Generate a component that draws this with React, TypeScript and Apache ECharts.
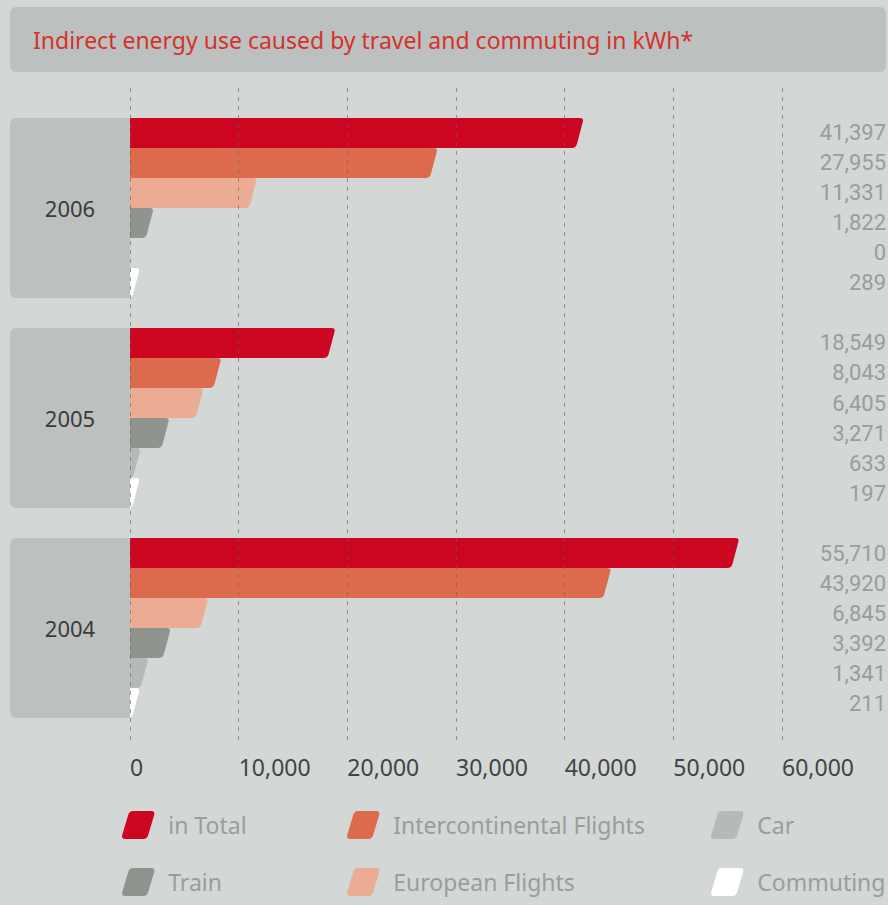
import React, { useEffect, useRef } from "react";
import * as echarts from "echarts";

// ---------- data ----------
const years = ["2006", "2005", "2004"];
const seriesNames = [
  "in Total",
  "Intercontinental Flights",
  "European Flights",
  "Train",
  "Car",
  "Commuting",
];
const totalValues = [41397, 18549, 55710];
const intercontinentalValues = [27955, 8043, 43920];
const europeanValues = [11331, 6405, 6845];
const trainValues = [1822, 3271, 3392];
const carValues = [0, 633, 1341];
const commutingValues = [289, 197, 211];
const axisMin = 0;
const axisMax = 60000;
const axisInterval = 10000;
const titleText = "Indirect energy use caused by travel and commuting in kWh*";

const seriesValues = [
  totalValues,
  intercontinentalValues,
  europeanValues,
  trainValues,
  carValues,
  commutingValues,
];
const seriesColors = ["#cc0520", "#dc6a4c", "#ebac93", "#8f948f", "#b5bab7", "#ffffff"];

const FONT = '"Noto Sans", "Open Sans", sans-serif';
const NUMFONT = 'Roboto, "Noto Sans", sans-serif';
const BG = "#d3d7d5";
const BOX = "#bcc1bf";

const legendIcon =
  "path://M12,0 L30,0 Q34,0 33,4 L27,24 Q26,28 22,28 L4,28 Q0,28 1,24 L7,4 Q8,0 12,0 Z";

const legendPlacement: Record<string, [number, number]> = {
  "in Total": [122, 811],
  "Intercontinental Flights": [347, 811],
  Car: [711, 811],
  Train: [122, 868],
  "European Flights": [347, 868],
  Commuting: [711, 868],
};

const fmt = (v: number) => v.toLocaleString("en-US");

function barPath(x0: number, xt: number, yT: number, yB: number, s: number, r: number) {
  const h = yB - yT;
  const xb = xt - s;
  const dx = (s * r) / h;
  return (
    `M${x0},${yT} L${xt - r},${yT} Q${xt},${yT} ${xt - dx},${yT + r} ` +
    `L${xb + dx},${yB - r} Q${xb},${yB} ${xb - r},${yB} L${x0},${yB} Z`
  );
}

export default function App() {
  const ref = useRef<HTMLDivElement>(null);

  useEffect(() => {
    if (!ref.current) return;
    const chart = echarts.init(ref.current, null, { renderer: "svg" });

    const barSeries = seriesNames.map((name, k) => ({
      type: "custom",
      name,
      z: 2,
      itemStyle: { color: seriesColors[k] },
      data: seriesValues[k].map((v, gi) => [v, gi]),
      renderItem: (params: any, api: any) => {
        const v = api.value(0);
        const gi = api.value(1);
        const c = api.coord([v, gi]);
        const z0 = api.coord([0, gi]);
        const unit = api.size([0, 1])[1];
        const h = unit / 7;
        const top = c[1] - 3 * h + k * h;
        const bottom = top + h;
        const children: any[] = [];
        const s = 8;
        if (v > 0) {
          const xt = Math.max(c[0] + s / 2, z0[0] + 10);
          children.push({
            type: "path",
            shape: { pathData: barPath(z0[0], xt, top, bottom, s, 4) },
            style: { fill: seriesColors[k] },
          });
        }
        children.push({
          type: "text",
          x: api.getWidth() - 2,
          y: (top + bottom) / 2,
          style: {
            text: fmt(v),
            align: "right",
            verticalAlign: "middle",
            fill: "#9a9d9b",
            fontSize: 22,
            fontFamily: NUMFONT,
          },
        });
        return { type: "group", children };
      },
    }));

    const yearSeries = {
      type: "custom",
      name: "years",
      z: 1,
      silent: true,
      data: years.map((y, i) => [0, i]),
      renderItem: (params: any, api: any) => {
        const gi = api.value(1);
        const z0 = api.coord([0, gi]);
        const unit = api.size([0, 1])[1];
        const h = unit / 7;
        const top = z0[1] - 3 * h;
        const left = 10;
        return {
          type: "group",
          children: [
            {
              type: "rect",
              shape: { x: left, y: top, width: z0[0] - left, height: 6 * h, r: [6, 0, 0, 6] },
              style: { fill: BOX },
            },
            {
              type: "text",
              x: (left + z0[0]) / 2,
              y: z0[1],
              style: {
                text: years[gi],
                align: "center",
                verticalAlign: "middle",
                fill: "#3a3b3b",
                fontSize: 22,
                fontFamily: FONT,
              },
            },
          ],
        };
      },
    };

    const legends = seriesNames.map((name) => ({
      data: [{ name, icon: legendIcon }],
      left: legendPlacement[name][0],
      top: legendPlacement[name][1],
      padding: 0,
      itemGap: 0,
      itemWidth: 34,
      itemHeight: 28,
      selectedMode: false,
      textStyle: {
        fontSize: 23,
        color: "#9a9d9b",
        fontFamily: FONT,
        padding: [0, 0, 0, 8],
      },
    }));

    chart.setOption({
      animation: false,
      backgroundColor: BG,
      textStyle: { fontFamily: FONT },
      title: {
        text: titleText,
        left: 33,
        top: 26,
        padding: 0,
        textStyle: { color: "#d6312c", fontSize: 23, fontWeight: "normal", fontFamily: FONT, lineHeight: 28 },
      },
      graphic: [
        {
          type: "rect",
          left: 10,
          top: 7,
          z: -1,
          shape: { width: 876, height: 65, r: 6 },
          style: { fill: BOX },
        },
      ],
      legend: legends,
      grid: { left: 130, right: 106, top: 88, bottom: 165 },
      xAxis: {
        type: "value",
        min: axisMin,
        max: axisMax,
        interval: axisInterval,
        z: 10,
        axisLine: { show: false },
        axisTick: { show: false },
        splitLine: {
          show: true,
          lineStyle: { type: [4, 5], color: "rgba(95,100,98,0.6)", width: 1 },
        },
        axisLabel: {
          align: "left",
          margin: 15,
          fontSize: 23,
          color: "#424444",
          fontFamily: FONT,
          formatter: (v: number) => fmt(v),
        },
      },
      yAxis: {
        type: "value",
        inverse: true,
        min: -0.5714,
        max: 2.5333,
        show: false,
        splitLine: { show: false },
      },
      series: [yearSeries, ...barSeries],
    });

    return () => chart.dispose();
  }, []);

  return (
    <div
      ref={ref}
      style={{ position: "fixed", left: 0, top: 0, width: 888, height: 905 }}
    />
  );
}
